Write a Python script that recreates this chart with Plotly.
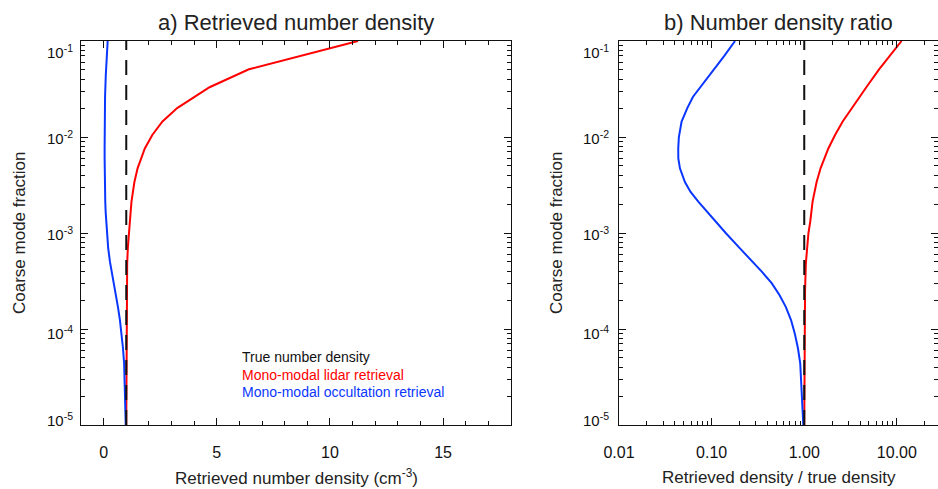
import plotly.graph_objects as go

# ---------------- data ----------------
TRUE_DENSITY = 1.0  # cm^-3

# Mono-modal lidar retrieval: coarse mode fraction vs ratio retrieved/true
frac_lidar = [1e-5, 3e-5, 1e-4, 1.5e-4, 2.5e-4, 4.8e-4, 7e-4, 1e-3, 1.31e-3,
              2.12e-3, 3.4e-3, 4.72e-3, 7.6e-3, 1.05e-2, 1.45e-2, 0.02,
              0.033, 0.0507, 0.1]
ratio_lidar = [1.0, 1.002, 1.006, 1.01, 1.02, 1.04, 1.07, 1.11, 1.16,
               1.23, 1.36, 1.50, 1.82, 2.15, 2.6, 3.25,
               4.68, 6.42, 11.24]

# Mono-modal occultation retrieval
frac_occ = [1e-5, 1.3e-5, 2.3e-5, 4.4e-5, 6.3e-5, 9e-5, 1.24e-4, 1.7e-4,
            2.26e-4, 3e-4, 3.93e-4, 5e-4, 7e-4, 1e-3, 1.31e-3, 1.66e-3,
            2.12e-3, 2.69e-3, 3.4e-3, 4.72e-3, 6e-3, 7.6e-3, 1e-2, 1.45e-2,
            2e-2, 2.63e-2, 4.43e-2, 0.07, 0.1]
ratio_occ = [0.977, 0.965, 0.945, 0.905, 0.855, 0.79, 0.72, 0.632,
             0.54, 0.445, 0.35, 0.28, 0.20, 0.142, 0.111, 0.089,
             0.0718, 0.059, 0.0515, 0.0455, 0.0437, 0.0436, 0.0443, 0.0474,
             0.0546, 0.063, 0.096, 0.137, 0.179]

# True number density (reference line)
frac_true = [1e-5, 0.1]
ratio_true = [1.0, 1.0]

dens_lidar = [r * TRUE_DENSITY for r in ratio_lidar]
dens_occ = [r * TRUE_DENSITY for r in ratio_occ]
dens_true = [r * TRUE_DENSITY for r in ratio_true]

y_decades = [-5, -4, -3, -2, -1]
y_ticktext = ["10<sup>-5</sup>", "10<sup>-4</sup>", "10<sup>-3</sup>",
              "10<sup>-2</sup>", "10<sup>-1</sup>"]
y_label_nudge = [6, -3, 0, 0, -10]   # vertical nudge of each label (px)
x1_ticks = [0, 5, 10, 15]
x2_tickvals = [0.01, 0.1, 1, 10]
x2_ticktext = ["0.01", "0.10", "1.00", "10.00"]

legend_labels = ["True number density", "Mono-modal lidar retrieval",
                 "Mono-modal occultation retrieval"]

BLUE = "#0a37ff"
RED = "#ff0000"
BLACK = "#111111"
FONT = "Liberation Sans, Arial, Helvetica, sans-serif"

# ---------------- figure ----------------
fig = go.Figure()

# left panel
fig.add_trace(go.Scatter(x=dens_lidar, y=frac_lidar, mode="lines",
                         line=dict(color=RED, width=2), xaxis="x", yaxis="y"))
fig.add_trace(go.Scatter(x=dens_occ, y=frac_occ, mode="lines",
                         line=dict(color=BLUE, width=2), xaxis="x", yaxis="y"))
fig.add_trace(go.Scatter(x=dens_true, y=frac_true, mode="lines",
                         line=dict(color=BLACK, width=2, dash="15px,10px"),
                         xaxis="x", yaxis="y"))
# right panel
fig.add_trace(go.Scatter(x=ratio_lidar, y=frac_lidar, mode="lines",
                         line=dict(color=RED, width=2), xaxis="x2", yaxis="y2"))
fig.add_trace(go.Scatter(x=ratio_occ, y=frac_occ, mode="lines",
                         line=dict(color=BLUE, width=2), xaxis="x2", yaxis="y2"))
fig.add_trace(go.Scatter(x=ratio_true, y=frac_true, mode="lines",
                         line=dict(color=BLACK, width=2, dash="15px,10px"),
                         xaxis="x2", yaxis="y2"))

minor_log = [m * 10.0 ** d for d in [-5, -4, -3, -2, -1] for m in range(2, 10)]
minor_log_x = [m * 10.0 ** d for d in [-2, -1, 0, 1] for m in range(2, 10)]

common = dict(showline=True, linecolor=BLACK, linewidth=1.2, mirror="allticks",
              ticks="inside", ticklen=7, tickwidth=1, tickcolor=BLACK,
              showgrid=False, zeroline=False,
              tickfont=dict(size=16, color=BLACK, family=FONT))

W, H = 938, 489
L, R, T, B = 81, 0, 41, 64
pw = W - L - R
x1_dom = [0, (511 - L) / pw]
x2_dom = [(619 - L) / pw, 1]

fig.update_layout(
    width=W, height=H, margin=dict(l=L, r=R, t=T, b=B),
    paper_bgcolor="white", plot_bgcolor="white", showlegend=False,
    font=dict(family=FONT, color=BLACK),
    xaxis=dict(common, domain=x1_dom, range=[-1, 18], tickmode="array",
               tickvals=x1_ticks, ticklabelstandoff=13, anchor="y",
               minor=dict(dtick=1, tick0=0, ticks="inside", ticklen=4,
                          tickcolor=BLACK, showgrid=False)),
    yaxis=dict(common, type="log", range=[-5, -1], anchor="x",
               tickmode="array", tickvals=[10.0 ** d for d in y_decades],
               showticklabels=False,
               minor=dict(tickmode="array", tickvals=minor_log, ticks="inside",
                          ticklen=4, tickcolor=BLACK, showgrid=False)),
    xaxis2=dict(common, domain=x2_dom, type="log", range=[-2, 1.444],
                tickmode="array", tickvals=x2_tickvals, ticktext=x2_ticktext,
                ticklabelstandoff=13, anchor="y2",
                minor=dict(tickmode="array", tickvals=minor_log_x, ticks="inside",
                           ticklen=4, tickcolor=BLACK, showgrid=False)),
    yaxis2=dict(common, type="log", range=[-5, -1], anchor="x2",
                tickmode="array", tickvals=[10.0 ** d for d in y_decades],
                showticklabels=False,
                minor=dict(tickmode="array", tickvals=minor_log, ticks="inside",
                           ticklen=4, tickcolor=BLACK, showgrid=False)),
)

ann = []
# y tick labels (IDL-style placement)
for xr, yr, xs in [("x domain", "y", -6), ("x2 domain", "y2", -8)]:
    for d, t, nudge in zip(y_decades, y_ticktext, y_label_nudge):
        ann.append(dict(xref=xr, yref=yr, x=0, y=d, text=t, showarrow=False,
                        xanchor="right", yanchor="middle", xshift=xs,
                        yshift=nudge,
                        font=dict(size=15, color=BLACK, family=FONT)))
# titles
for xr, yr, t in [("x domain", "y domain", "a) Retrieved number density"),
                  ("x2 domain", "y2 domain", "b) Number density ratio")]:
    ann.append(dict(xref=xr, yref=yr, x=0.5, y=1, text=t, showarrow=False,
                    xanchor="center", yanchor="middle", yshift=19,
                    font=dict(size=22, color="#222222", family=FONT)))
# x axis titles
for xr, yr, t in [("x domain", "y domain", "Retrieved number density (cm<sup>-3</sup>)"),
                  ("x2 domain", "y2 domain", "Retrieved density / true density")]:
    ann.append(dict(xref=xr, yref=yr, x=0.5, y=0, text=t, showarrow=False,
                    xanchor="center", yanchor="middle", yshift=-52,
                    font=dict(size=17, color="#222222", family=FONT)))
# y axis titles
for xr, yr, xs in [("x domain", "y domain", -62), ("x2 domain", "y2 domain", -63)]:
    ann.append(dict(xref=xr, yref=yr, x=0, y=0.5, text="Coarse mode fraction",
                    textangle=-90, showarrow=False, xanchor="center",
                    yanchor="middle", xshift=xs,
                    font=dict(size=17, color="#222222", family=FONT)))
# legend text
for lab, col, yy in zip(legend_labels, [BLACK, RED, BLUE], [0.177, 0.1315, 0.086]):
    ann.append(dict(xref="x domain", yref="y domain", x=0.37, y=yy, text=lab,
                    showarrow=False, xanchor="left", yanchor="middle",
                    font=dict(size=14, color=col, family=FONT)))

fig.update_layout(annotations=ann)
fig.write_html("out.html", config={"displayModeBar": False},
               post_script="document.body.style.margin='0';"
                           "document.body.style.overflow='hidden';")
